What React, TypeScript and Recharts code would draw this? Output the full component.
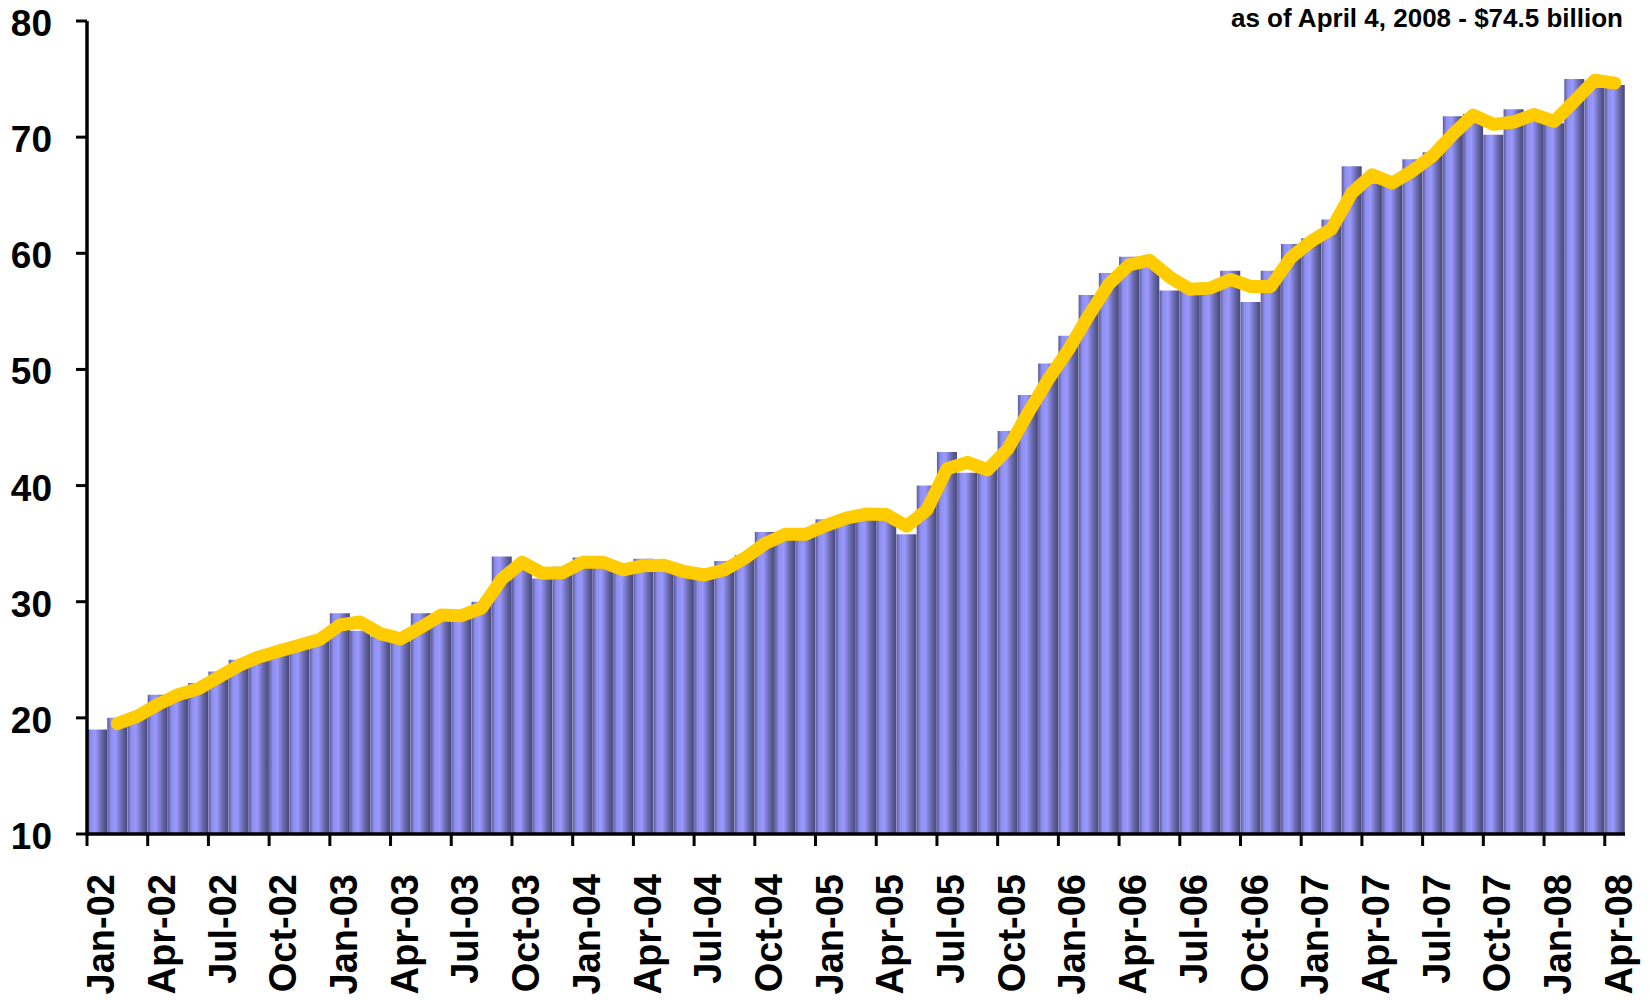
import React from "react";
import { ComposedChart, Bar, Line, XAxis, YAxis } from "recharts";

// monthly holdings, $ billion
const MONTHS = [
  "Jan-02", "Feb-02", "Mar-02", "Apr-02", "May-02", "Jun-02", "Jul-02", "Aug-02", "Sep-02", "Oct-02", "Nov-02", "Dec-02",
  "Jan-03", "Feb-03", "Mar-03", "Apr-03", "May-03", "Jun-03", "Jul-03", "Aug-03", "Sep-03", "Oct-03", "Nov-03", "Dec-03",
  "Jan-04", "Feb-04", "Mar-04", "Apr-04", "May-04", "Jun-04", "Jul-04", "Aug-04", "Sep-04", "Oct-04", "Nov-04", "Dec-04",
  "Jan-05", "Feb-05", "Mar-05", "Apr-05", "May-05", "Jun-05", "Jul-05", "Aug-05", "Sep-05", "Oct-05", "Nov-05", "Dec-05",
  "Jan-06", "Feb-06", "Mar-06", "Apr-06", "May-06", "Jun-06", "Jul-06", "Aug-06", "Sep-06", "Oct-06", "Nov-06", "Dec-06",
  "Jan-07", "Feb-07", "Mar-07", "Apr-07", "May-07", "Jun-07", "Jul-07", "Aug-07", "Sep-07", "Oct-07", "Nov-07", "Dec-07",
  "Jan-08", "Feb-08", "Mar-08", "Apr-08",
];

const HOLDINGS = [
  19.0, 20.0, 20.3, 22.0, 22.0, 23.0, 24.0, 25.0, 25.5, 26.0, 26.5, 27.0,
  29.0, 27.5, 27.0, 26.6, 29.0, 28.7, 28.9, 30.0, 33.9, 32.9, 32.0, 33.0,
  33.8, 33.0, 32.5, 33.7, 32.6, 32.6, 32.0, 33.5, 34.0, 36.0, 35.6, 36.0,
  37.1, 37.3, 37.8, 37.2, 35.8, 40.0, 42.9, 41.1, 41.6, 44.7, 47.8, 50.5,
  52.9, 56.4, 58.3, 59.7, 59.1, 56.8, 57.0, 57.0, 58.5, 55.8, 58.5, 60.8,
  61.3, 62.9, 67.5, 66.0, 66.1, 68.1, 68.7, 71.8, 72.0, 70.2, 72.4, 71.5,
  71.2, 75.0, 74.8, 74.5,
];

// yellow trend line (2-month moving average), starts Feb-02
const TREND = [
  null, 19.5, 20.15, 21.15, 22.0, 22.5, 23.5, 24.5, 25.25, 25.75, 26.25, 26.75,
  28.0, 28.25, 27.25, 26.8, 27.8, 28.85, 28.8, 29.45, 31.95, 33.4, 32.45, 32.5,
  33.4, 33.4, 32.75, 33.1, 33.15, 32.6, 32.3, 32.75, 33.75, 35.0, 35.8, 35.8,
  36.55, 37.2, 37.55, 37.5, 36.5, 37.9, 41.45, 42.0, 41.35, 43.15, 46.25, 49.15,
  51.7, 54.65, 57.35, 59.0, 59.4, 57.95, 56.9, 57.0, 57.75, 57.15, 57.15, 59.65,
  61.05, 62.1, 65.2, 66.75, 66.05, 67.1, 68.4, 70.25, 71.9, 71.1, 71.3, 71.95,
  71.35, 73.1, 74.9, 74.65,
];

const Y_TICKS = [10, 20, 30, 40, 50, 60, 70, 80];
const NOTE = "as of April 4, 2008 - $74.5 billion";

const W = 1651;
const H = 1000;
const LEFT = 87;
const RIGHT = 26;
const TOP = 21;
const AXIS_Y = 834;
const BAND = (W - LEFT - RIGHT) / MONTHS.length;
const FONT = "'Liberation Sans', Arial, sans-serif";

const data = MONTHS.map((m, i) => ({ month: m, value: HOLDINGS[i], avg: TREND[i] }));

function MonthTick(props: any) {
  const { x, payload } = props;
  const edge = x - BAND / 2;
  return (
    <g>
      <line x1={edge} x2={edge} y1={AXIS_Y} y2={AXIS_Y + 12} stroke="#000" strokeWidth={3} />
      <text
        transform={`translate(${x + 17}, 874) rotate(-90)`}
        textAnchor="end"
        fontFamily={FONT}
        fontWeight="bold"
        fontSize={38}
        fill="#000"
      >
        {payload.value}
      </text>
    </g>
  );
}

function ValueTick(props: any) {
  const { y, payload } = props;
  return (
    <g>
      <line x1={LEFT - 11} x2={LEFT} y1={y} y2={y} stroke="#000" strokeWidth={3} />
      <text x={52} y={y + 15} textAnchor="end" fontFamily={FONT} fontWeight="bold" fontSize={37} fill="#000">
        {payload.value}
      </text>
    </g>
  );
}

export default function App() {
  return (
    <div style={{ position: "absolute", left: 0, top: 0, width: W, height: H, background: "#fff" }}>
      <ComposedChart
        width={W}
        height={H}
        data={data}
        margin={{ top: TOP, right: RIGHT, bottom: 0, left: 0 }}
        barCategoryGap={0}
        barGap={0}
      >
        <defs>
          <linearGradient id="barShade" x1="0" y1="0" x2="1" y2="0">
            <stop offset="0%" stopColor="#5a5a96" />
            <stop offset="18%" stopColor="#8f8ff0" />
            <stop offset="42%" stopColor="#9999ff" />
            <stop offset="72%" stopColor="#6a6aae" />
            <stop offset="100%" stopColor="#46467a" />
          </linearGradient>
        </defs>
        <XAxis
          dataKey="month"
          interval={2}
          height={H - AXIS_Y}
          axisLine={{ stroke: "#000", strokeWidth: 3.5 }}
          tickLine={false}
          tick={<MonthTick />}
        />
        <YAxis
          width={LEFT}
          domain={[10, 80]}
          ticks={Y_TICKS}
          allowDataOverflow
          axisLine={{ stroke: "#000", strokeWidth: 3.5 }}
          tickLine={false}
          tick={<ValueTick />}
        />
        <Bar dataKey="value" fill="url(#barShade)" isAnimationActive={false} />
        <Line
          dataKey="avg"
          stroke="#FFCC00"
          strokeWidth={13}
          strokeLinecap="round"
          strokeLinejoin="round"
          dot={false}
          activeDot={false}
          isAnimationActive={false}
        />
        <text x={1623} y={27} textAnchor="end" fontFamily={FONT} fontWeight="bold" fontSize={26} fill="#000">
          {NOTE}
        </text>
      </ComposedChart>
    </div>
  );
}
